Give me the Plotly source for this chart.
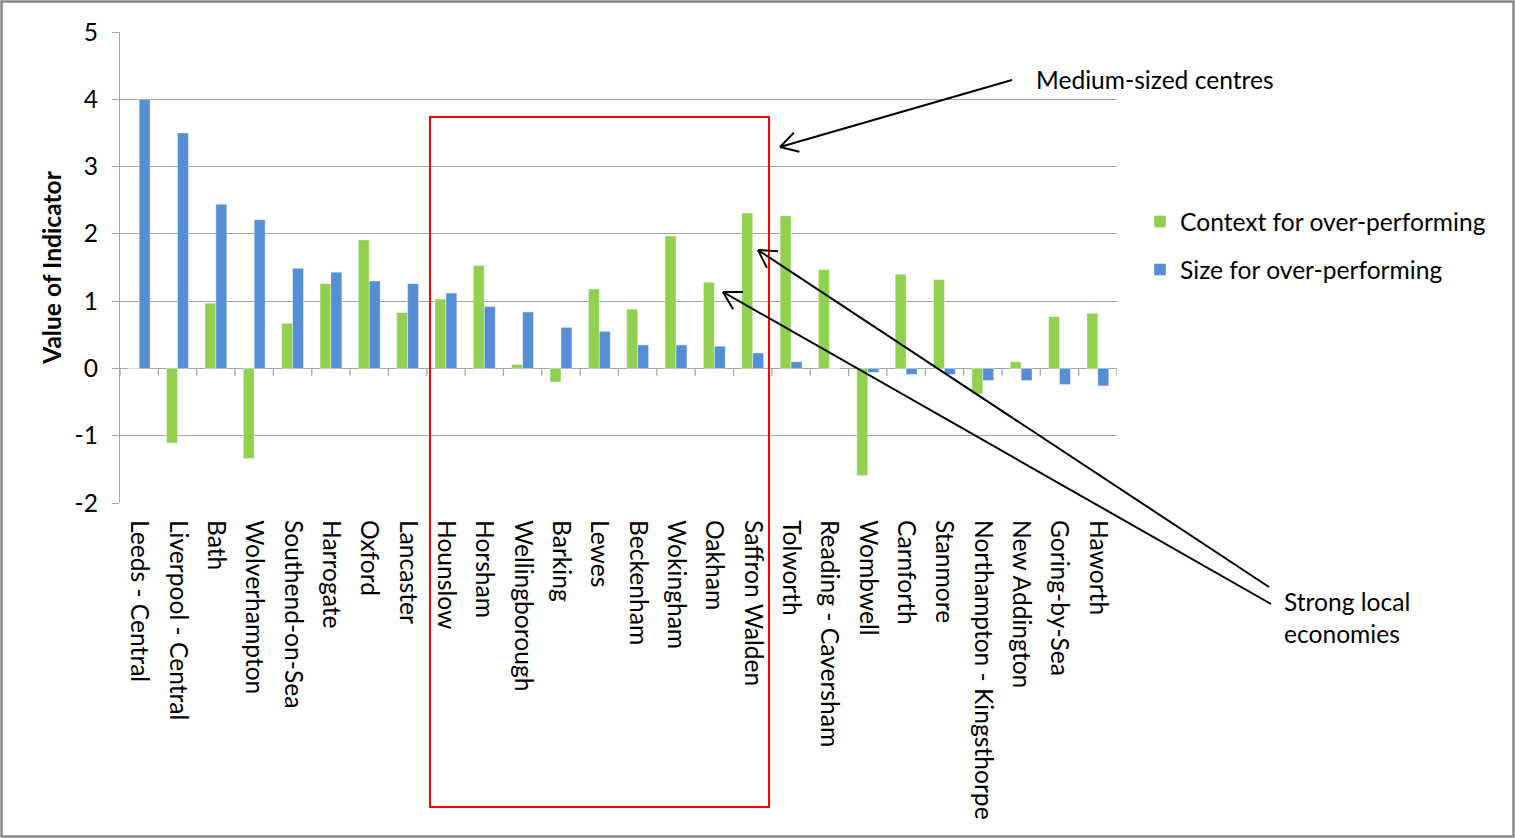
import math
import plotly.graph_objects as go

# Town centres along the x axis
centres = [
    "Leeds - Central", "Liverpool - Central", "Bath", "Wolverhampton",
    "Southend-on-Sea", "Harrogate", "Oxford", "Lancaster", "Hounslow",
    "Horsham", "Wellingborough", "Barking", "Lewes", "Beckenham",
    "Wokingham", "Oakham", "Saffron Walden", "Tolworth", "Reading - Caversham",
    "Wombwell", "Carnforth", "Stanmore", "Northampton - Kingsthorpe",
    "New Addington", "Goring-by-Sea", "Haworth",
]

context_over = [
    0.0, -1.11, 0.97, -1.34, 0.67, 1.26, 1.91, 0.83, 1.03,
    1.53, 0.06, -0.20, 1.18, 0.88, 1.97, 1.28, 2.31, 2.27, 1.47,
    -1.59, 1.40, 1.32, -0.38, 0.10, 0.77, 0.82,
]

size_over = [
    4.00, 3.50, 2.44, 2.21, 1.49, 1.43, 1.30, 1.26, 1.12,
    0.92, 0.84, 0.61, 0.55, 0.35, 0.35, 0.33, 0.23, 0.10, 0.0,
    -0.06, -0.09, -0.09, -0.18, -0.18, -0.24, -0.26,
]

y_ticks = [-2, -1, 0, 1, 2, 3, 4, 5]

GREEN = "#92D050"
BLUE = "#558ED5"
GRID = "#A6A6A6"
FONT = "Lato"
FS = 24.6

W, H = 1515, 838
L, R, T, B = 120, 1117, 32, 503  # plot area in pixels


def px(x):
    return (x - L) / (R - L)


def py(y):
    return (B - y) / (B - T)


fig = go.Figure()
fig.add_trace(go.Bar(
    x=centres, y=context_over, name="Context for over-performing",
    marker=dict(color=GREEN, line=dict(color="rgba(255,255,255,0.5)", width=0.8)),
    legendgroup="a",
))
fig.add_trace(go.Bar(
    x=centres, y=size_over, name="Size for over-performing",
    marker=dict(color=BLUE, line=dict(color="rgba(255,255,255,0.5)", width=0.8)),
    legendgroup="b",
))

shapes = []

# small tick marks on the zero line between categories
for i in range(len(centres) + 1):
    shapes.append(dict(type="line", xref="x", yref="y",
                       x0=i - 0.5, x1=i - 0.5, y0=0, y1=-0.11,
                       line=dict(color=GRID, width=1.3)))

# highlight box around the medium-sized centres
shapes.append(dict(type="rect", xref="paper", yref="paper",
                   x0=px(430), x1=px(769), y0=py(807), y1=py(117),
                   line=dict(color="#FF0000", width=2)))

# outer frame of the chart
shapes.append(dict(type="rect", xref="paper", yref="paper",
                   x0=px(1.5), x1=px(W - 1.5), y0=py(H - 1.5), y1=py(1.5),
                   line=dict(color="#888888", width=2.5)))


def arrow(tail, head, arm=20, spread=30):
    """Line from tail to head with an open V arrowhead at head (pixel coords)."""
    (tx, ty), (hx, hy) = tail, head
    out = [dict(type="line", xref="paper", yref="paper",
                x0=px(tx), y0=py(ty), x1=px(hx), y1=py(hy),
                line=dict(color="black", width=2))]
    ang = math.atan2(ty - hy, tx - hx)
    for s in (-spread, spread):
        a = ang + math.radians(s)
        ex, ey = hx + arm * math.cos(a), hy + arm * math.sin(a)
        out.append(dict(type="line", xref="paper", yref="paper",
                        x0=px(hx), y0=py(hy), x1=px(ex), y1=py(ey),
                        line=dict(color="black", width=2)))
    return out


shapes += arrow((1012, 80), (780, 147))
shapes += arrow((1269, 587), (758, 250))
shapes += arrow((1271, 604), (723, 292))

annotations = [
    dict(text="Medium-sized centres", xref="paper", yref="paper",
         x=px(1034), y=py(80), xanchor="left", yanchor="middle",
         showarrow=False, font=dict(family=FONT, size=FS, color="black")),
    dict(text="Strong local<br>economies", xref="paper", yref="paper",
         x=px(1282), y=py(617), xanchor="left", yanchor="middle", align="left",
         showarrow=False, font=dict(family=FONT, size=FS, color="black")),
]

fig.update_layout(
    width=W, height=H,
    margin=dict(l=L, r=W - R, t=T, b=H - B, pad=0),
    paper_bgcolor="white", plot_bgcolor="white",
    barmode="group", bargap=0.43, bargroupgap=0,
    font=dict(family=FONT, size=FS, color="black"),
    shapes=shapes, annotations=annotations,
    legend=dict(x=px(1140), y=py(199), xanchor="left", yanchor="top",
                font=dict(family=FONT, size=FS, color="black"),
                traceorder="grouped", tracegroupgap=13,
                bgcolor="rgba(0,0,0,0)"),
    xaxis=dict(
        type="category", range=[-0.5, len(centres) - 0.5],
        tickangle=90, showgrid=False, showline=False, ticks="",
        ticklabelstandoff=16, tickfont=dict(family=FONT, size=FS),
        fixedrange=True,
    ),
    yaxis=dict(
        range=[-2, 5], tickvals=y_ticks, ticktext=[str(v) for v in y_ticks],
        showgrid=True, gridcolor=GRID, gridwidth=1.3,
        zeroline=True, zerolinecolor=GRID, zerolinewidth=1.3,
        showline=True, linecolor=GRID, linewidth=1.3,
        ticks="outside", ticklen=7, tickcolor=GRID, tickwidth=1.3,
        ticklabelstandoff=9, tickfont=dict(family=FONT, size=FS),
        title=dict(text="<b>Value of Indicator</b>", standoff=5,
                   font=dict(family=FONT, size=FS)),
    ),
)

fig.write_html("out.html")
